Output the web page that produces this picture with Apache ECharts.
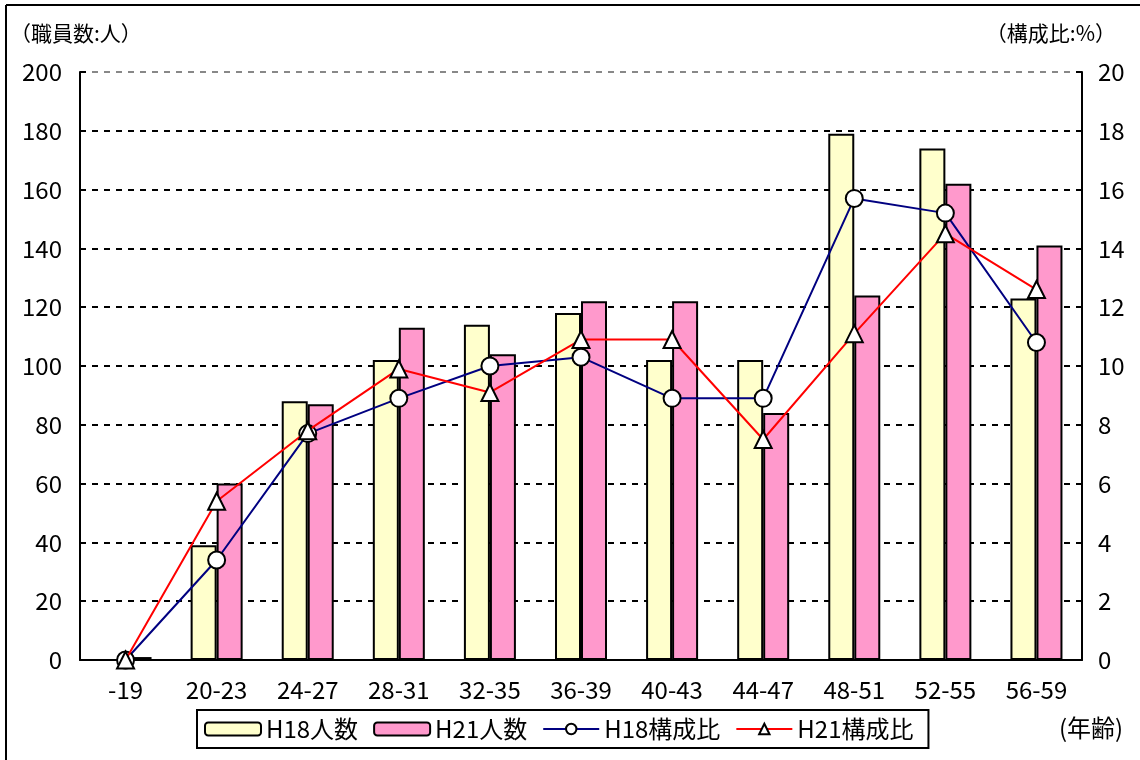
<!DOCTYPE html>
<html>
<head>
<meta charset="utf-8">
<script src="https://cdn.jsdelivr.net/npm/echarts@6/dist/echarts.min.js"></script>
<style>
  html, body { margin: 0; padding: 0; background: #fff; }
  #chart { width: 1140px; height: 760px; }
</style>
</head>
<body>
<div id="chart"></div>
<script>
// 年齢区分
const ageGroups = ["-19", "20-23", "24-27", "28-31", "32-35", "36-39", "40-43", "44-47", "48-51", "52-55", "56-59"];
// 職員数（人）
const h18Count = [0, 39, 88, 102, 114, 118, 102, 102, 179, 174, 123];
const h21Count = [1, 60, 87, 113, 104, 122, 122, 84, 124, 162, 141];
// 構成比（%）
const h18Ratio = [0, 3.4, 7.7, 8.9, 10.0, 10.3, 8.9, 8.9, 15.7, 15.2, 10.8];
const h21Ratio = [0, 5.4, 7.8, 9.9, 9.1, 10.9, 10.9, 7.5, 11.1, 14.5, 12.6];

const font = '"Noto Sans CJK JP", sans-serif';

// top split line is grey, the rest black
let gridColors = [];
for (let i = 0; i < 10; i++) gridColors.push("#000");
gridColors.push("#888");

let option = {
  backgroundColor: "#fff",
  animation: false,
  textStyle: { fontFamily: font },
  grid: {
    left: 80,
    right: 58,
    top: 72,
    bottom: 100,
    containLabel: false,
  },
  legend: {
    left: 197,
    top: 710,
    itemGap: 15,
    itemWidth: 56,
    itemHeight: 13,
    padding: [7, 15, 7, 7],
    backgroundColor: "#fff",
    borderColor: "#000",
    borderWidth: 2,
    textStyle: { fontFamily: font, fontSize: 24, color: "#000" },
    data: ["H18人数", "H21人数", "H18構成比", "H21構成比"],
  },
  xAxis: [
    {
      type: "category",
      data: ageGroups,
      axisLine: { lineStyle: { color: "#000", width: 2 } },
      axisTick: { inside: true, length: 6, lineStyle: { color: "#000", width: 2 } },
      axisLabel: { color: "#000", fontSize: 24, fontFamily: font, margin: 18 },
    },
  ],
  yAxis: [
    {
      type: "value",
      min: 0,
      max: 200,
      interval: 20,
      name: "（職員数:人）",
      nameLocation: "end",
      nameGap: 28,
      nameTextStyle: { color: "#000", fontSize: 21, fontFamily: font, align: "left", padding: [0, 0, 0, -70] },
      axisLine: { show: true, lineStyle: { color: "#000", width: 2 } },
      axisTick: { show: true, inside: true, length: 6, lineStyle: { color: "#000", width: 2 } },
      axisLabel: { color: "#000", fontSize: 24, fontFamily: font, margin: 18 },
      splitLine: {
        show: true,
        lineStyle: { color: gridColors, width: 2, type: [6, 6] },
      },
    },
    {
      type: "value",
      min: 0,
      max: 20,
      interval: 2,
      name: "（構成比:%）",
      nameLocation: "end",
      nameGap: 28,
      nameTextStyle: { color: "#000", fontSize: 21, fontFamily: font, align: "right", padding: [0, -34, 0, 0] },
      axisLine: { show: true, lineStyle: { color: "#000", width: 2 } },
      axisTick: { show: true, inside: true, length: 6, lineStyle: { color: "#000", width: 2 } },
      axisLabel: { color: "#000", fontSize: 24, fontFamily: font, margin: 16 },
      splitLine: { show: false },
    },
  ],
  graphic: [
    {
      type: "text",
      left: 1059,
      top: 716,
      style: { text: "(年齢)", fontSize: 24, fontFamily: font, fill: "#000" },
    },
    {
      type: "line",
      shape: { x1: 6, y1: 5, x2: 1140, y2: 5 },
      style: { stroke: "#000", lineWidth: 2 },
    },
    {
      type: "line",
      shape: { x1: 6, y1: 5, x2: 6, y2: 760 },
      style: { stroke: "#000", lineWidth: 2 },
    },
  ],
  series: [
    {
      name: "H18人数",
      type: "bar",
      barWidth: 26,
      barGap: "0%",
      itemStyle: { color: "#FFFFCC", borderColor: "#000", borderWidth: 2 },
      data: h18Count,
    },
    {
      name: "H21人数",
      type: "bar",
      barWidth: 26,
      barGap: "0%",
      itemStyle: { color: "#FF99CC", borderColor: "#000", borderWidth: 2 },
      data: h21Count,
    },
    {
      name: "H18構成比",
      type: "line",
      yAxisIndex: 1,
      symbol: "circle",
      symbolSize: 17,
      lineStyle: { color: "#000080", width: 2 },
      itemStyle: { color: "#fff", borderColor: "#000", borderWidth: 2 },
      data: h18Ratio,
      z: 3,
    },
    {
      name: "H21構成比",
      type: "line",
      yAxisIndex: 1,
      symbol: "triangle",
      symbolSize: 17,
      lineStyle: { color: "#FF0000", width: 2 },
      itemStyle: { color: "#fff", borderColor: "#000", borderWidth: 2 },
      data: h21Ratio,
      z: 4,
    },
  ],
};

let myChart = echarts.init(document.getElementById("chart"));
myChart.setOption(option, true);
window.onresize = myChart.resize;
</script>
</body>
</html>
